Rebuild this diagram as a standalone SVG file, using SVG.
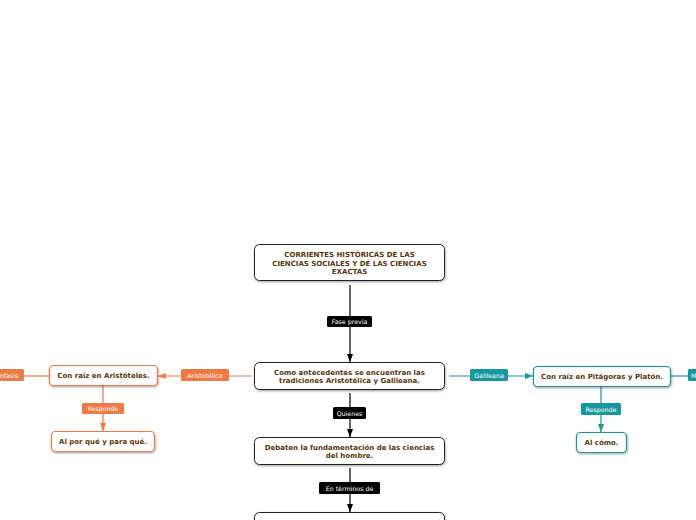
<svg xmlns="http://www.w3.org/2000/svg" width="696" height="520" viewBox="0 0 696 520">
<defs>
<filter id="sh" x="-10%" y="-20%" width="120%" height="150%"><feDropShadow dx="0.6" dy="1.2" stdDeviation="0.8" flood-color="#000" flood-opacity="0.35"/></filter>
<marker id="ak" markerWidth="8" markerHeight="6" refX="8" refY="3" orient="auto" markerUnits="userSpaceOnUse"><path d="M0,0 L8,3 L0,6 Z" fill="#000"/></marker>
<marker id="ao" markerWidth="8" markerHeight="6" refX="8" refY="3" orient="auto" markerUnits="userSpaceOnUse"><path d="M0,0 L8,3 L0,6 Z" fill="#f07a44"/></marker>
<marker id="at" markerWidth="8" markerHeight="6" refX="8" refY="3" orient="auto" markerUnits="userSpaceOnUse"><path d="M0,0 L8,3 L0,6 Z" fill="#17989e"/></marker>
</defs>
<style>
.nk{fill:#fff;stroke:#222;stroke-width:1}
.no{fill:#fff;stroke:#f07a44;stroke-width:1.2}
.nt{fill:#fff;stroke:#17989e;stroke-width:1.2}
.tx{font-family:"DejaVu Sans",Verdana,sans-serif;font-weight:bold;font-size:7px;fill:#5e3406;text-anchor:middle}
.lk{fill:#000}
.lo{fill:#f07a44}
.lt{fill:#17989e}
.lb{font-family:"DejaVu Sans",Verdana,sans-serif;font-size:6.3px;fill:#fff;text-anchor:middle}
.ck{stroke:#000;stroke-width:1.2;fill:none}
.co{stroke:#f07a44;stroke-width:1.2;fill:none}
.ct{stroke:#17989e;stroke-width:1.2;fill:none}
</style>
<g id="connectors">
<line class="ck" x1="350" y1="285" x2="350" y2="362" marker-end="url(#ak)"/>
<line class="ck" x1="350" y1="393" x2="350" y2="437" marker-end="url(#ak)"/>
<line class="ck" x1="350" y1="468" x2="350" y2="512" marker-end="url(#ak)"/>
<line class="co" x1="252" y1="376" x2="158" y2="376" marker-end="url(#ao)"/>
<line class="co" x1="49" y1="376" x2="22" y2="376"/>
<line class="co" x1="103" y1="386" x2="103" y2="431" marker-end="url(#ao)"/>
<line class="ct" x1="449" y1="376" x2="533" y2="376" marker-end="url(#at)"/>
<line class="ct" x1="671" y1="376" x2="690" y2="376"/>
<line class="ct" x1="601" y1="387" x2="601" y2="432" marker-end="url(#at)"/>
<rect class="lk" x="327" y="316" width="45" height="11" rx="1.5"/>
<text class="lb" x="349.5" y="324">Fase previa</text>
<rect class="lk" x="333" y="407" width="33" height="12" rx="1.5"/>
<text class="lb" x="349.5" y="415.5">Quienes</text>
<rect class="lk" x="319" y="482" width="61" height="12" rx="1.5"/>
<text class="lb" x="349.5" y="490.5">En términos de</text>
<rect class="lo" x="181" y="369" width="48" height="12" rx="1.5"/>
<text class="lb" x="205" y="377.5">Aristotélica</text>
<rect class="lo" x="-10" y="369" width="34" height="12" rx="1.5"/>
<text class="lb" x="7" y="377.5">Énfasis</text>
<rect class="lo" x="82" y="403" width="42" height="11" rx="1.5"/>
<text class="lb" x="103" y="411">Responde</text>
<rect class="lt" x="470" y="369" width="38" height="12" rx="1.5"/>
<text class="lb" x="489" y="377.5">Galileana</text>
<rect class="lt" x="688" y="369" width="30" height="12" rx="1.5"/>
<text class="lb" x="691" y="377.5" style="text-anchor:start">M</text>
<rect class="lt" x="581" y="403" width="40" height="12" rx="1.5"/>
<text class="lb" x="601" y="411.5">Responde</text>
</g>
<g id="n1">
<rect class="nk" x="254.5" y="244.5" width="190" height="36" rx="5" filter="url(#sh)"/>
<text class="tx" x="349.5" y="257">CORRIENTES HISTÓRICAS DE LAS</text>
<text class="tx" x="349.5" y="265.5">CIENCIAS SOCIALES Y DE LAS CIENCIAS</text>
<text class="tx" x="349.5" y="274">EXACTAS</text>
</g>
<g id="n2">
<rect class="nk" x="254.5" y="362.5" width="190" height="27" rx="5" filter="url(#sh)"/>
<text class="tx" x="349.5" y="374.5">Como antecedentes se encuentran las</text>
<text class="tx" x="349.5" y="383">tradiciones Aristotélica y Galileana.</text>
</g>
<g id="n3">
<rect class="nk" x="254.5" y="437.5" width="190" height="27" rx="5" filter="url(#sh)"/>
<text class="tx" x="349.5" y="449.5">Debaten la fundamentación de las ciencias</text>
<text class="tx" x="349.5" y="458">del hombre.</text>
</g>
<g id="n4">
<rect class="nk" x="254.5" y="512.5" width="190" height="27" rx="5" filter="url(#sh)"/>
</g>
<g id="n5">
<rect class="no" x="49.5" y="365.5" width="108" height="20" rx="4" filter="url(#sh)"/>
<text class="tx" x="103.5" y="378">Con raíz en Aristóteles.</text>
</g>
<g id="n6">
<rect class="no" x="51.5" y="431.5" width="103" height="20" rx="4" filter="url(#sh)"/>
<text class="tx" x="103" y="444">Al por qué y para qué.</text>
</g>
<g id="n7">
<rect class="nt" x="533.5" y="366.5" width="137" height="20" rx="4" filter="url(#sh)"/>
<text class="tx" x="602" y="379">Con raíz en Pitágoras y Platón.</text>
</g>
<g id="n8">
<rect class="nt" x="576.5" y="432.5" width="50" height="20" rx="4" filter="url(#sh)"/>
<text class="tx" x="601.5" y="445">Al cómo.</text>
</g>
</svg>
